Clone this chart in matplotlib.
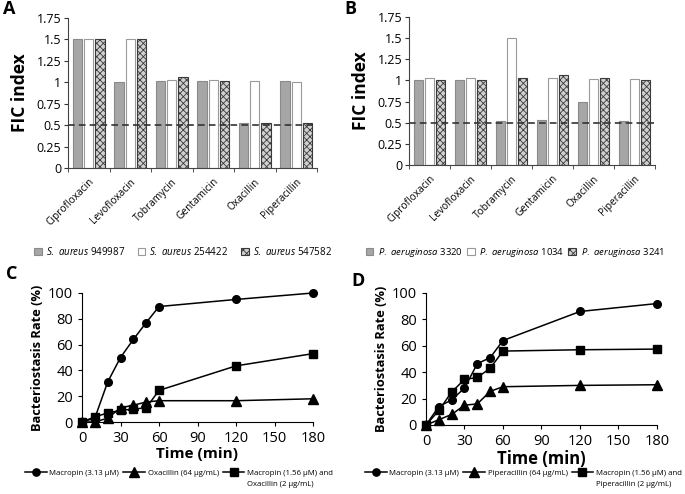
import matplotlib
matplotlib.use("Agg")
import matplotlib.pyplot as plt
import numpy as np
from matplotlib.patches import Patch

plt.rcParams['font.family'] = ['Open Sans', 'DejaVu Sans']
plt.rcParams['mathtext.fontset'] = 'custom'
plt.rcParams['mathtext.it'] = 'Open Sans:italic'
plt.rcParams['mathtext.rm'] = 'Open Sans'
plt.rcParams['hatch.linewidth'] = 0.6

antibiotics = ["Ciprofloxacin", "Levofloxacin", "Tobramycin", "Gentamicin", "Oxacillin", "Piperacillin"]

sa_labels = [r"$\it{S.\ aureus}$ 949987", r"$\it{S.\ aureus}$ 254422", r"$\it{S.\ aureus}$ 547582"]
sa_949987 = [1.5, 1.0, 1.02, 1.02, 0.52, 1.02]
sa_254422 = [1.5, 1.5, 1.03, 1.03, 1.02, 1.0]
sa_547582 = [1.5, 1.5, 1.06, 1.02, 0.52, 0.53]

pa_labels = [r"$\it{P.\ aeruginosa}$ 3320", r"$\it{P.\ aeruginosa}$ 1034", r"$\it{P.\ aeruginosa}$ 3241"]
pa_3320 = [1.0, 1.01, 0.52, 0.53, 0.75, 0.52]
pa_1034 = [1.03, 1.03, 1.5, 1.03, 1.02, 1.02]
pa_3241 = [1.01, 1.01, 1.03, 1.06, 1.03, 1.01]

fic_ticks = [0, 0.25, 0.5, 0.75, 1, 1.25, 1.5, 1.75]
fic_ticklabels = ["0", "0.25", "0.5", "0.75", "1", "1.25", "1.5", "1.75"]

time_min = [0, 10, 20, 30, 40, 50, 60, 120, 180]
c_macropin = [0, 3, 31, 50, 64, 77, 89.5, 95, 100]
c_oxacillin = [0, 0, 3, 11, 13, 15.5, 16.5, 16.5, 18]
c_combo = [0, 4, 7, 9, 10, 11, 24.5, 43.5, 53]
c_labels = ["Macropin (3.13 μM)", "Oxacillin (64 μg/mL)", "Macropin (1.56 μM) and"]
c_label_cont = "Oxacillin (2 μg/mL)"

d_macropin = [0, 14, 19, 28, 46.5, 51, 64, 86, 92]
d_piperacillin = [0, 4, 8, 15, 16, 25.5, 29, 30, 30.5]
d_combo = [0, 11, 25, 34.5, 36, 43, 56, 57, 57.5]
d_labels = ["Macropin (3.13 μM)", "Piperacillin (64 μg/mL)", "Macropin (1.56 μM) and"]
d_label_cont = "Piperacillin (2 μg/mL)"

W, H = 685, 494
fig = plt.figure(figsize=(W / 100, H / 100), dpi=100)

bar_styles = [
    dict(facecolor="#a6a6a6", edgecolor="#8a8a8a", linewidth=0.8),
    dict(facecolor="white", edgecolor="#9a9a9a", linewidth=0.8),
    dict(facecolor="#d0d0d0", edgecolor="#3a3a3a", linewidth=0.8, hatch="xxxxx"),
]


def bar_panel(rect, series, labels, letter, letter_xy, leg_xy, colsp, txtpad, legsize):
    ax = fig.add_axes(rect)
    n = len(antibiotics)
    x = np.arange(n)
    w = 0.22
    offs = [-0.27, 0.0, 0.27]
    for s, o, st in zip(series, offs, bar_styles):
        ax.bar(x + o, s, width=w, **st)
    ax.set_xlim(-0.5, n - 0.5)
    ax.set_ylim(0, 1.75)
    ax.set_yticks(fic_ticks)
    ax.set_yticklabels(fic_ticklabels, fontsize=9)
    ax.set_xticks(x)
    ax.set_xticklabels(antibiotics, rotation=45, ha="right", rotation_mode="anchor", fontsize=7.3)
    ax.tick_params(axis="x", length=0, pad=6)
    ax.set_xticks(np.arange(-0.5, n, 1.0), minor=True)
    ax.tick_params(axis="x", which="minor", length=3, direction="out", color="#333333")
    ax.tick_params(axis="y", length=3, direction="out", color="#333333", pad=2)
    ax.axhline(0.5, color="#333333", linestyle=(0, (4, 2.5)), linewidth=1.2, zorder=5)
    for sp in ["top", "right"]:
        ax.spines[sp].set_visible(False)
    ax.spines["left"].set_color("#444444")
    ax.spines["bottom"].set_color("#444444")
    ax.set_ylabel("FIC index", fontsize=12.5, fontweight="bold", labelpad=5)
    handles = [Patch(**st) for st in bar_styles]
    fig.legend(handles, labels, ncol=3, loc="center",
               bbox_to_anchor=(leg_xy[0] / W, 1 - leg_xy[1] / H), bbox_transform=fig.transFigure,
               frameon=False, fontsize=legsize, handlelength=0.8, handleheight=0.8,
               columnspacing=colsp, handletextpad=txtpad, borderpad=0, borderaxespad=0)
    fig.text(letter_xy[0] / W, 1 - letter_xy[1] / H, letter, fontsize=13, fontweight="bold",
             ha="left", va="center")
    return ax


bar_panel([68 / W, 1 - 168 / H, 249 / W, 150 / H], [sa_949987, sa_254422, sa_547582],
          sa_labels, "A", (3, 9), (183, 252), 1.3, 0.4, 7)
bar_panel([409 / W, 1 - 165 / H, 246 / W, 148 / H], [pa_3320, pa_1034, pa_3241],
          pa_labels, "B", (344, 9), (515, 252), 0.4, 0.5, 6.8)

legends = []
LEG_FS = 5.6


def line_panel(rect, ys, labels, cont, letter, letter_xy, leg_xy, leg_loc, timesize):
    ax = fig.add_axes(rect)
    markers = ["o", "^", "s"]
    sizes = [5.5, 7, 5.5]
    handles = []
    for y, m, s in zip(ys, markers, sizes):
        h, = ax.plot(time_min, y, color="black", marker=m, markersize=s, linewidth=1.1,
                     clip_on=False, zorder=3)
        handles.append(h)
    ax.set_xlim(0, 180)
    ax.set_ylim(0, 100)
    ax.set_xticks([0, 30, 60, 90, 120, 150, 180])
    ax.set_yticks([0, 20, 40, 60, 80, 100])
    ax.tick_params(labelsize=10.5, length=3, direction="out")
    for sp in ["top", "right"]:
        ax.spines[sp].set_visible(False)
    ax.set_xlabel("Time (min)", fontsize=timesize, fontweight="bold", labelpad=1)
    ax.set_ylabel("Bacteriostasis Rate (%)", fontsize=9.3, fontweight="bold", labelpad=3)
    leg = fig.legend(handles, labels, ncol=3, loc=leg_loc,
                     bbox_to_anchor=(leg_xy[0] / W, 1 - leg_xy[1] / H), bbox_transform=fig.transFigure,
                     frameon=False, fontsize=LEG_FS, handlelength=2.8, columnspacing=0.5,
                     handletextpad=0.35, markerscale=0.95, borderpad=0, borderaxespad=0)
    legends.append((leg, cont))
    fig.text(letter_xy[0] / W, 1 - letter_xy[1] / H, letter, fontsize=13, fontweight="bold",
             ha="left", va="center")
    return ax


line_panel([82 / W, 1 - 422 / H, 231 / W, 129 / H], [c_macropin, c_oxacillin, c_combo],
           c_labels, c_label_cont, "C", (6, 274), (179, 473), "center", 11)
line_panel([426 / W, 1 - 425 / H, 231 / W, 132 / H], [d_macropin, d_piperacillin, d_combo],
           d_labels, d_label_cont, "D", (351, 281), (682, 473), "center right", 12)

fig.canvas.draw()
for leg, cont in legends:
    t = leg.get_texts()[2]
    bb = t.get_window_extent()
    fig.text(bb.x0 / W, (bb.y0 - 11 + bb.height / 2) / H, cont, fontsize=LEG_FS,
             ha="left", va="center")

fig.savefig("out.png", dpi=100)
